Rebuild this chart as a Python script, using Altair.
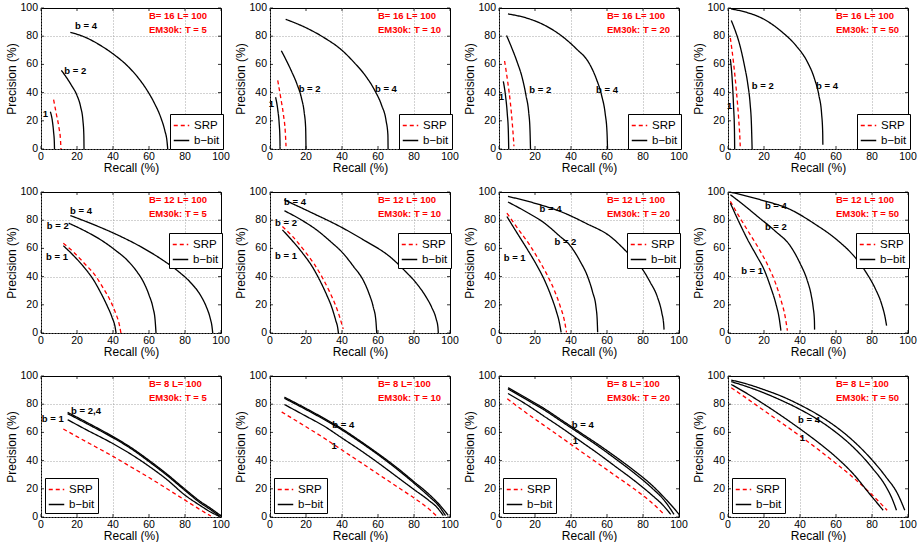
import altair as alt
import pandas as pd

FONT = "Liberation Sans"

# ---------------- data: (recall %, precision %) pairs ----------------
# Row 1: B = 16
B16_T5_SRP = [(7, 35), (8.5, 25), (10, 15), (10.8, 7), (11.1, 0)]
B16_T5_B1 = [(5.2, 26.4), (6.3, 20), (7, 12), (7.4, 5), (7.5, 0)]
B16_T5_B2 = [(11.3, 55.8), (14, 51), (17, 45), (20, 38), (22, 30), (23.3, 20), (23.8, 10), (23.9, 0)]
B16_T5_B4 = [(16.3, 82.8), (25, 79), (33, 73.5), (40, 67.5), (48, 59), (54, 50.5), (59, 41.5), (63, 32.5), (66.5, 22.5), (68.8, 13), (70, 5.5), (70.4, 0)]

B16_T10_SRP = [(4.3, 48.6), (6, 36), (7.5, 24), (8.5, 12), (8.9, 2)]
B16_T10_B1 = [(3.1, 36.7), (4.3, 28), (5.1, 18), (5.5, 8), (5.6, 0)]
B16_T10_B2 = [(6.3, 69.7), (9, 63), (12, 55), (15, 46), (17.5, 36), (19, 26), (19.8, 15), (19.95, 5), (20, 0)]
B16_T10_B4 = [(8.7, 92), (20, 86), (30, 79), (40, 70), (47, 61), (53, 52), (58, 42), (62, 31), (64.5, 20), (65.5, 10), (65.6, 0)]

B16_T20_SRP = [(3.1, 62.4), (4.8, 48), (6.3, 33), (7.4, 18), (8.1, 6), (8.3, 2)]
B16_T20_B1 = [(2.4, 48), (3.6, 38), (4.6, 25), (5.2, 12), (5.4, 0)]
B16_T20_B2 = [(4.2, 80.5), (7, 72), (10, 62), (13, 50), (15, 38), (16.5, 26), (17.2, 14), (17.5, 0)]
B16_T20_B4 = [(5, 95.8), (15, 93), (25, 88), (35, 80), (43, 71), (50, 61), (54, 50), (57, 38), (59, 25), (60, 12), (60.3, 0)]

B16_T50_SRP = [(1.3, 78.7), (3, 62), (4.6, 42), (5.9, 22), (6.6, 8), (6.8, 2)]
B16_T50_B1 = [(1.3, 63.7), (2.3, 50), (3.1, 30), (3.6, 12), (3.7, 0)]
B16_T50_B2 = [(1.8, 91.2), (4, 84), (6.5, 74), (9, 60), (11, 46), (12.3, 32), (13, 18), (13.4, 0)]
B16_T50_B4 = [(1.8, 99.3), (10, 97), (20, 92), (30, 83), (38, 73), (44, 62), (48, 50), (50.5, 38), (52, 25), (52.6, 12), (52.7, 3)]

# Row 2: B = 12
B12_T5_SRP = [(12.4, 63.6), (18, 57.5), (24, 49.5), (30, 41), (34.5, 32), (38.5, 23), (41.5, 14), (43.5, 6), (44.4, 0)]
B12_T5_B1 = [(12.4, 61.9), (18, 55), (24, 46.5), (29, 38), (33, 29), (36.5, 20), (39.5, 11), (41.2, 4), (41.7, 0)]
B12_T5_B2 = [(15.4, 77.9), (25, 72), (33.3, 66), (41, 59), (48, 51.5), (53, 44), (57, 36), (60, 27), (62.2, 18), (63.4, 9), (63.9, 0)]
B12_T5_B4 = [(16.3, 83.3), (30, 76.5), (42.6, 69.5), (55, 61.5), (66.7, 52.5), (76, 44), (83.3, 35.5), (88.5, 27), (91.7, 19), (94, 10.5), (95, 4.5), (95.4, 0)]

B12_T10_SRP = [(6.9, 75.5), (12.5, 68.5), (19, 58.5), (24.5, 49), (29, 39.5), (33, 29.5), (36.3, 20), (38.8, 11), (40.3, 4.5), (40.7, 2.9)]
B12_T10_B1 = [(6.9, 73.1), (12, 66), (18.5, 56), (23.5, 47), (27.8, 37), (31.5, 27), (34.3, 18.3), (36.5, 9), (37.7, 3), (38, 0)]
B12_T10_B2 = [(8, 86.7), (17, 80.5), (26, 73), (33.5, 65), (40.7, 56.4), (46.5, 47), (51.8, 37.4), (55, 28), (57.4, 18.3), (58.8, 9), (59.3, 0)]
B12_T10_B4 = [(7.8, 94.5), (22, 86), (38.9, 75.5), (52, 66), (66.7, 54), (75, 44), (81.5, 35), (86.5, 26), (89.8, 18.3), (92.3, 10), (93.3, 4), (93.5, 0)]

B12_T20_SRP = [(4.4, 85), (10.5, 74), (17, 62.5), (22.5, 51), (27, 40.5), (31, 29.5), (34, 19), (36.3, 9), (37.5, 0.5)]
B12_T20_B1 = [(4.4, 82.6), (10, 71), (16, 58.8), (21, 48), (25.3, 37.4), (28.7, 27), (31.7, 16), (33.6, 7), (34.5, 0.5)]
B12_T20_B2 = [(5, 92.9), (15, 86), (25.3, 77.9), (33, 69.5), (40, 61.2), (45, 51), (49.3, 39.8), (52, 29), (53.9, 18.3), (54.6, 8), (54.8, 0.5)]
B12_T20_B4 = [(5, 96.9), (20, 92), (34.5, 86), (48, 78), (62.2, 68.1), (71, 57.5), (78.8, 46.9), (84, 36), (88, 25.5), (90.5, 14), (91.5, 6), (91.7, 2.4)]

B12_T50_SRP = [(1.3, 93.3), (6.5, 82), (12, 70.5), (17.5, 59), (22.5, 47), (26.5, 35), (29.5, 23), (31.7, 12), (33, 1.7)]
B12_T50_B1 = [(1.3, 92.1), (6, 79), (11, 66), (15.8, 55), (20.2, 44.5), (23.7, 32.5), (26.6, 20.7), (28.5, 10), (29.4, 1.7)]
B12_T50_B2 = [(1.3, 98.1), (8, 91.5), (16.5, 82.6), (26, 72.5), (34.9, 61.2), (40, 49.5), (44, 37.4), (46.2, 27), (47.3, 18.3), (48, 9), (48.1, 2.4)]
B12_T50_B4 = [(1.8, 99.8), (18, 94.5), (34.9, 87.4), (48, 77.5), (60.6, 66), (70, 54.5), (77, 42.4), (82, 31), (85.3, 20.7), (87.3, 11), (88.1, 5.2)]

# Row 3: B = 8
B8_T5_SRP = [(12.4, 62.4), (20, 57), (30, 50), (40, 43), (50, 35.5), (60, 28), (70, 20), (80, 12), (88, 5.5), (94.4, 0.7)]
B8_T5_B1 = [(14.8, 69), (25, 62), (40, 52), (50, 44.5), (60, 36), (70, 26.5), (80, 15.5), (88, 8.5), (95, 3), (99, 0.5)]
B8_T5_B2 = [(14.8, 73.3), (25, 66.5), (40, 56.2), (50, 48.5), (60, 39.3), (70, 29.5), (80, 18.8), (88, 10.5), (95, 4.5), (99.5, 0.3)]
B8_T5_B4 = [(14.8, 74.2), (25, 67.4), (40, 57), (50, 49.3), (60, 40.2), (70, 30.4), (80, 19.7), (88, 11.5), (95, 5.5), (100, 0.8)]

B8_T10_SRP = [(6.5, 74.5), (20, 64), (30, 56), (40, 47.5), (50, 39), (60, 30.5), (70, 22), (80, 13.5), (88, 6), (92.6, 0.7)]
B8_T10_B1 = [(8, 79.8), (20, 71.5), (30, 64.5), (40, 56), (50, 47.5), (60, 38.5), (70, 29), (80, 19.5), (88, 12), (93, 6.5), (96.3, 1)]
B8_T10_B2 = [(8, 84.2), (20, 76.2), (30, 69.2), (40, 61.7), (50, 53.2), (60, 44.2), (70, 34.5), (80, 24), (88, 15), (94, 7.5), (97.5, 1)]
B8_T10_B4 = [(8, 85), (20, 77), (30, 70), (40, 62.5), (50, 54), (60, 45), (70, 35.5), (80, 25), (88, 16.5), (95, 7.5), (99, 1.2)]

B8_T20_SRP = [(4.6, 83.8), (15, 74), (25, 65), (35, 56), (45, 47), (55, 38), (65, 29), (75, 20), (85, 10), (91.7, 1.9)]
B8_T20_B1 = [(5, 87.6), (15, 80), (25, 71.5), (35, 63), (45, 54), (55, 45), (65, 35.5), (75, 26), (85, 15.5), (91, 8.5), (95.4, 1.9)]
B8_T20_B2 = [(5, 90.8), (15, 83.5), (25, 76), (35, 67.5), (45, 59), (55, 50.3), (65, 41), (75, 31.3), (85, 20.5), (92, 11.5), (97.2, 1.9)]
B8_T20_B4 = [(5, 91.7), (15, 84.5), (25, 77), (35, 68.5), (45, 60), (55, 51.5), (65, 42.5), (75, 33), (85, 22.5), (92, 13.5), (97, 6.5), (100, 1.9)]

B8_T50_SRP = [(1.8, 91.7), (10, 84.5), (20, 75.5), (30, 66.5), (40, 57.5), (50, 48), (60, 38), (70, 27.5), (80, 15.8), (88.4, 4.8)]
B8_T50_B1 = [(1.8, 94), (10, 88), (20, 80), (30, 71.5), (40, 62.5), (50, 53), (60, 42.5), (70, 30), (78.9, 16), (86.2, 4.8)]
B8_T50_B2 = [(1.8, 96), (10, 92.7), (20, 88), (30, 82.5), (40, 76.3), (50, 69), (60, 60), (70, 49), (80, 35), (88, 21), (91, 13.5), (93.6, 4.8)]
B8_T50_B4 = [(1.8, 97.1), (10, 94.5), (20, 90.3), (30, 85.5), (40, 79.5), (50, 72.5), (60, 64), (70, 53.5), (80, 40.5), (88, 28), (94, 17), (98.2, 4.8)]

# curve labels: (text, recall, precision)
LAB_B16_T5 = [("b = 4", 25, 87), ("b = 2", 19, 55), ("1", 2.4, 24.5)]
LAB_B16_T10 = [("b = 2", 22, 42.4), ("b = 4", 64.4, 42.4), ("1", 0.8, 31.8)]
LAB_B16_T20 = [("b = 2", 22.9, 42), ("b = 4", 60, 42), ("1", 1.3, 37)]
LAB_B16_T50 = [("b = 2", 19.3, 44.8), ("b = 4", 55, 44.8), ("1", 0.9, 30.6)]
LAB_B12_T5 = [("b = 4", 22.2, 86.7), ("b = 2", 9.3, 76.2), ("b = 1", 8.9, 53.6)]
LAB_B12_T10 = [("b = 4", 13.9, 92.6), ("b = 2", 8.9, 78), ("b = 1", 8.9, 54.5)]
LAB_B12_T20 = [("b = 4", 28.6, 87.9), ("b = 2", 36.9, 64.8), ("b = 1", 8.7, 52.9)]
LAB_B12_T50 = [("b = 4", 26.6, 90), ("b = 2", 26.6, 75.5), ("b = 1", 13.4, 44)]
LAB_B8_T5 = [("b = 2,4", 25, 75.5), ("b = 1", 6.5, 69.5)]
LAB_B8_T10 = [("b = 4", 40.7, 65.5), ("1", 35.6, 50.7)]
LAB_B8_T20 = [("b = 4", 46.5, 65), ("1", 42.4, 53.6)]
LAB_B8_T50 = [("b = 4", 45, 68.8), ("1", 41.3, 56)]

T_VALUES = [5, 10, 20, 50]
B_VALUES = [16, 12, 8]
METHODS = ["SRP", "b\u2212bit"]
TICKS = [0, 20, 40, 60, 80, 100]

PANELS = {
    (16, 5): ([B16_T5_SRP, B16_T5_B1, B16_T5_B2, B16_T5_B4], LAB_B16_T5),
    (16, 10): ([B16_T10_SRP, B16_T10_B1, B16_T10_B2, B16_T10_B4], LAB_B16_T10),
    (16, 20): ([B16_T20_SRP, B16_T20_B1, B16_T20_B2, B16_T20_B4], LAB_B16_T20),
    (16, 50): ([B16_T50_SRP, B16_T50_B1, B16_T50_B2, B16_T50_B4], LAB_B16_T50),
    (12, 5): ([B12_T5_SRP, B12_T5_B1, B12_T5_B2, B12_T5_B4], LAB_B12_T5),
    (12, 10): ([B12_T10_SRP, B12_T10_B1, B12_T10_B2, B12_T10_B4], LAB_B12_T10),
    (12, 20): ([B12_T20_SRP, B12_T20_B1, B12_T20_B2, B12_T20_B4], LAB_B12_T20),
    (12, 50): ([B12_T50_SRP, B12_T50_B1, B12_T50_B2, B12_T50_B4], LAB_B12_T50),
    (8, 5): ([B8_T5_SRP, B8_T5_B1, B8_T5_B2, B8_T5_B4], LAB_B8_T5),
    (8, 10): ([B8_T10_SRP, B8_T10_B1, B8_T10_B2, B8_T10_B4], LAB_B8_T10),
    (8, 20): ([B8_T20_SRP, B8_T20_B1, B8_T20_B2, B8_T20_B4], LAB_B8_T20),
    (8, 50): ([B8_T50_SRP, B8_T50_B1, B8_T50_B2, B8_T50_B4], LAB_B8_T50),
}

# legend placement (pixels inside each plot area) per row
LEGEND_POS = {16: (129, 106), 12: (128, 41), 8: (4, 102)}

W, H = 180, 141
SCALE = alt.Scale(domain=[0, 100], nice=False)


def panel(B, T):
    curves, labels = PANELS[(B, T)]
    recs = []
    names = ["srp", "b1", "b2", "b4"]
    for name, pts in zip(names, curves):
        method = METHODS[0] if name == "srp" else METHODS[1]
        for i, (x, y) in enumerate(pts):
            recs.append({"curve": name, "method": method, "recall": x, "precision": y, "i": i})
    df = pd.DataFrame(recs)

    xenc = alt.X("recall:Q", scale=SCALE,
                 axis=alt.Axis(title="Recall (%)", values=TICKS, labels=False, titlePadding=13))
    yenc = alt.Y("precision:Q", scale=SCALE,
                 axis=alt.Axis(title="Precision (%)", values=TICKS, labels=False, titlePadding=23))

    lx, ly = LEGEND_POS[B]
    leg = alt.Legend(title=None, orient="none", legendX=lx, legendY=ly, direction="vertical",
                     strokeColor="black", fillColor="white", padding=3, rowPadding=1,
                     labelFontSize=11.5, labelFont=FONT, labelColor="black",
                     symbolType="stroke", symbolSize=240, symbolStrokeWidth=1.3, labelOffset=4)

    lines = alt.Chart(df).mark_line(strokeWidth=1.3, interpolate="monotone").encode(
        x=xenc, y=yenc,
        color=alt.Color("method:N", scale=alt.Scale(domain=METHODS, range=["#ff0000", "#000000"]), legend=leg),
        strokeDash=alt.StrokeDash("method:N", scale=alt.Scale(domain=METHODS, range=[[4, 3], [1, 0]]), legend=leg),
        detail="curve:N",
        order="i:Q",
    )

    # tick labels and inward ticks, placed through the panel's scales
    tx = pd.DataFrame({"recall": TICKS, "lab": [str(v) for v in TICKS]})
    ty = pd.DataFrame({"precision": TICKS, "lab": [str(v) for v in TICKS]})
    xlab = alt.Chart(tx).mark_text(fontSize=10.5, font=FONT, color="black", baseline="top").encode(
        x=alt.X("recall:Q", scale=SCALE), y=alt.value(H + 3), text="lab:N")
    ylab = alt.Chart(ty).mark_text(fontSize=10.5, font=FONT, color="black", align="right", baseline="middle").encode(
        y=alt.Y("precision:Q", scale=SCALE), x=alt.value(-3), text="lab:N")
    tick_b = alt.Chart(tx).mark_rule(color="black", strokeWidth=0.8).encode(
        x=alt.X("recall:Q", scale=SCALE), y=alt.value(H), y2=alt.value(H - 3))
    tick_t = alt.Chart(tx).mark_rule(color="black", strokeWidth=0.8).encode(
        x=alt.X("recall:Q", scale=SCALE), y=alt.value(0), y2=alt.value(3))
    tick_l = alt.Chart(ty).mark_rule(color="black", strokeWidth=0.8).encode(
        y=alt.Y("precision:Q", scale=SCALE), x=alt.value(0), x2=alt.value(3))
    tick_r = alt.Chart(ty).mark_rule(color="black", strokeWidth=0.8).encode(
        y=alt.Y("precision:Q", scale=SCALE), x=alt.value(W), x2=alt.value(W - 3))

    ldf = pd.DataFrame(labels, columns=["t", "recall", "precision"])
    text = alt.Chart(ldf).mark_text(fontWeight="bold", fontSize=9.5, font=FONT, color="black").encode(
        x=alt.X("recall:Q", scale=SCALE), y=alt.Y("precision:Q", scale=SCALE), text="t:N")

    hdf = pd.DataFrame({"t": [f"B= {B} L= 100", f"EM30k: T = {T}"], "recall": [60, 60], "precision": [94.3, 84.3]})
    head = alt.Chart(hdf).mark_text(fontWeight="bold", fontSize=9.5, font=FONT, color="#ff0000", align="left").encode(
        x=alt.X("recall:Q", scale=SCALE), y=alt.Y("precision:Q", scale=SCALE), text="t:N")

    return alt.layer(lines, tick_b, tick_t, tick_l, tick_r, xlab, ylab, text, head).properties(width=W, height=H)


panels = [panel(B, T) for B in B_VALUES for T in T_VALUES]

chart = alt.concat(*panels, columns=4, spacing={"row": 43, "column": 49}, bounds="flush").resolve_scale(
    color="independent", strokeDash="independent").resolve_legend(
    color="independent", strokeDash="independent").properties(
    padding={"left": 4, "top": 2, "right": 0, "bottom": 0}, background="white"
).configure(font=FONT).configure_view(stroke="black", strokeWidth=1).configure_axis(
    grid=True, gridColor="#9a9a9a", gridDash=[1, 2], gridWidth=0.9, domain=False, ticks=False,
    titleFontSize=12, titleFontWeight="normal", titleColor="black", titleFont=FONT
)

chart.save("out.html", embed_options={"renderer": "svg", "actions": False})
